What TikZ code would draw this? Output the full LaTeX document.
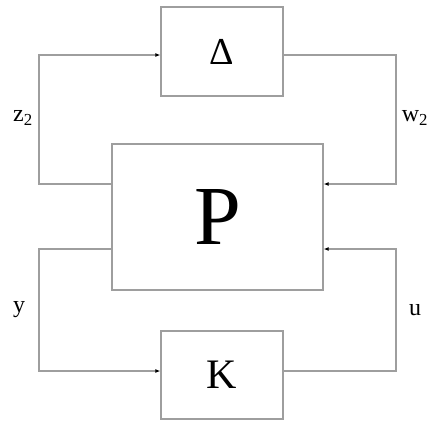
\documentclass[tikz,border=0pt]{standalone}
\usepackage{fontspec}
\setmainfont{Liberation Serif}
\usetikzlibrary{arrows.meta,positioning}

\begin{document}
\begin{tikzpicture}[x=1pt,y=-1pt,>={Latex[length=5pt,width=4pt,color=black]},
  line join=miter,
  block/.style={draw=black!38,line width=1.3pt,inner sep=0pt},
  wire/.style={draw=black!38,line width=1.3pt},
  lbl/.style={inner sep=0pt,font=\fontsize{24}{24}\selectfont}]
  \path[use as bounding box] (0,0) rectangle (428,421);
  % blocks
  \node[block,minimum width=122pt,minimum height=89pt,
    font=\fontsize{38}{38}\selectfont] (delta) at (222,51.5) {Δ};
  \node[block,minimum width=211pt,minimum height=146pt,
    font=\fontsize{84}{84}\selectfont] (P) at (217.5,217) {P};
  \node[block,minimum width=122pt,minimum height=88pt,
    font=\fontsize{42}{42}\selectfont] (K) at (222,375) {K};
  % corners of the loops
  \coordinate (ul) at (39,55);
  \coordinate (ml1) at (39,184);
  \coordinate (ml2) at (39,249);
  \coordinate (bl) at (39,371);
  \coordinate (ur) at (396,55);
  \coordinate (mr1) at (396,184);
  \coordinate (mr2) at (396,249);
  \coordinate (br) at (396,371);
  % upper loop
  \draw[wire,->] (P.west |- ml1) -- (ml1) -- (ul) -- (delta.west |- ul);
  \draw[wire,->] (delta.east |- ur) -- (ur) -- (mr1) -- (P.east |- mr1);
  % lower loop
  \draw[wire,->] (P.west |- ml2) -- (ml2) -- (bl) -- (K.west |- bl);
  \draw[wire,->] (K.east |- br) -- (br) -- (mr2) -- (P.east |- mr2);
  % signal names
  \node[lbl] (z2) at (23,118) {z\textsubscript{2}};
  \node[lbl] (w2) at (415,118) {w\textsubscript{2}};
  \node[lbl] (y) at (19,310) {y};
  \node[lbl] (u) at (415,310) {u};
\end{tikzpicture}
\end{document}
